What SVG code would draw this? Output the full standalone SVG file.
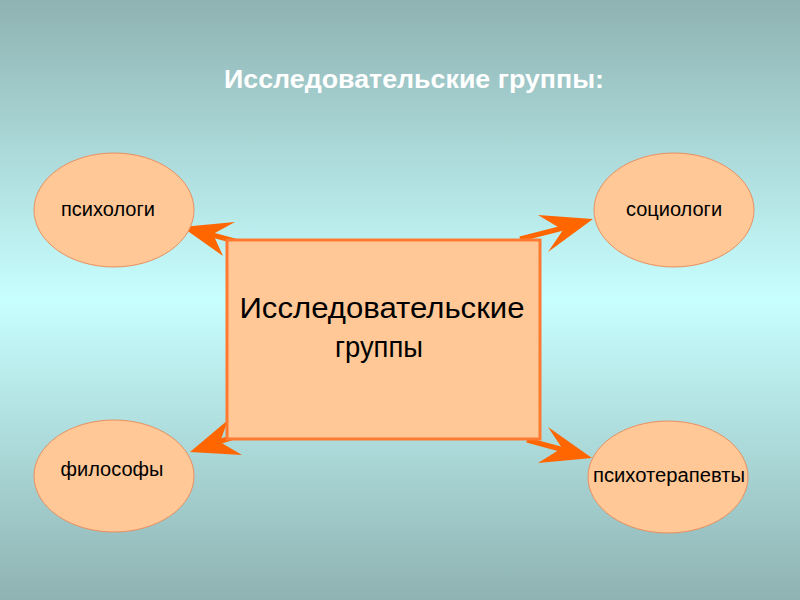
<svg xmlns="http://www.w3.org/2000/svg" width="800" height="600" viewBox="0 0 800 600">
<defs>
<linearGradient id="bg" x1="0" y1="0" x2="0" y2="1">
<stop offset="0" stop-color="#8FB2B2"/>
<stop offset="0.5" stop-color="#C8FFFF"/>
<stop offset="1" stop-color="#8FB2B2"/>
</linearGradient>
</defs>
<style>
.ell{fill:#FFC896;stroke:#E89060;stroke-width:1}
.lbl{font-family:"Liberation Sans",Arial,sans-serif;font-size:20px;fill:#000;text-anchor:middle}
.shaft{stroke:#FF6600;stroke-width:5;fill:none}
.head{fill:#FF6600;stroke:none}
</style>
<rect width="800" height="600" fill="url(#bg)"/>
<text x="414" y="88" font-family="Liberation Sans,Arial,sans-serif" font-size="26" font-weight="bold" fill="#FFFFFF" text-anchor="middle" textLength="380" lengthAdjust="spacingAndGlyphs">Исследовательские группы:</text>
<g id="connectors">
<line class="shaft" x1="253" y1="246" x2="205" y2="233"/>
<polygon class="head" points="182,227 235,222 213,234 223,256"/>
<line class="shaft" x1="520" y1="239" x2="575" y2="225"/>
<polygon class="head" points="593,219 548,252 563,230 538,215"/>
<line class="shaft" x1="247" y1="433" x2="205" y2="446"/>
<polygon class="head" points="190,452 228,420 220,442 242,455"/>
<line class="shaft" x1="527" y1="440" x2="575" y2="453"/>
<polygon class="head" points="592,458 538,463 562,448 548,427"/>
</g>
<g id="center">
<rect x="227" y="240" width="313" height="199" fill="#FFC896" stroke="#FF7A30" stroke-width="3"/>
<text x="382" y="318" font-family="Liberation Sans,Arial,sans-serif" font-size="29" text-anchor="middle" fill="#000" textLength="285" lengthAdjust="spacingAndGlyphs">Исследовательские</text>
<text x="379" y="357" font-family="Liberation Sans,Arial,sans-serif" font-size="29" text-anchor="middle" fill="#000" textLength="88" lengthAdjust="spacingAndGlyphs">группы</text>
</g>
<g id="psychologists">
<ellipse class="ell" cx="114" cy="210" rx="80" ry="57"/>
<text class="lbl" x="108" y="216">психологи</text>
</g>
<g id="sociologists">
<ellipse class="ell" cx="674" cy="210" rx="80" ry="57"/>
<text class="lbl" x="674" y="216">социологи</text>
</g>
<g id="philosophers">
<ellipse class="ell" cx="114" cy="476" rx="80" ry="56"/>
<text class="lbl" x="112" y="476">философы</text>
</g>
<g id="psychotherapists">
<ellipse class="ell" cx="668" cy="477" rx="80" ry="56"/>
<text class="lbl" x="669" y="482" textLength="152" lengthAdjust="spacingAndGlyphs">психотерапевты</text>
</g>
</svg>
